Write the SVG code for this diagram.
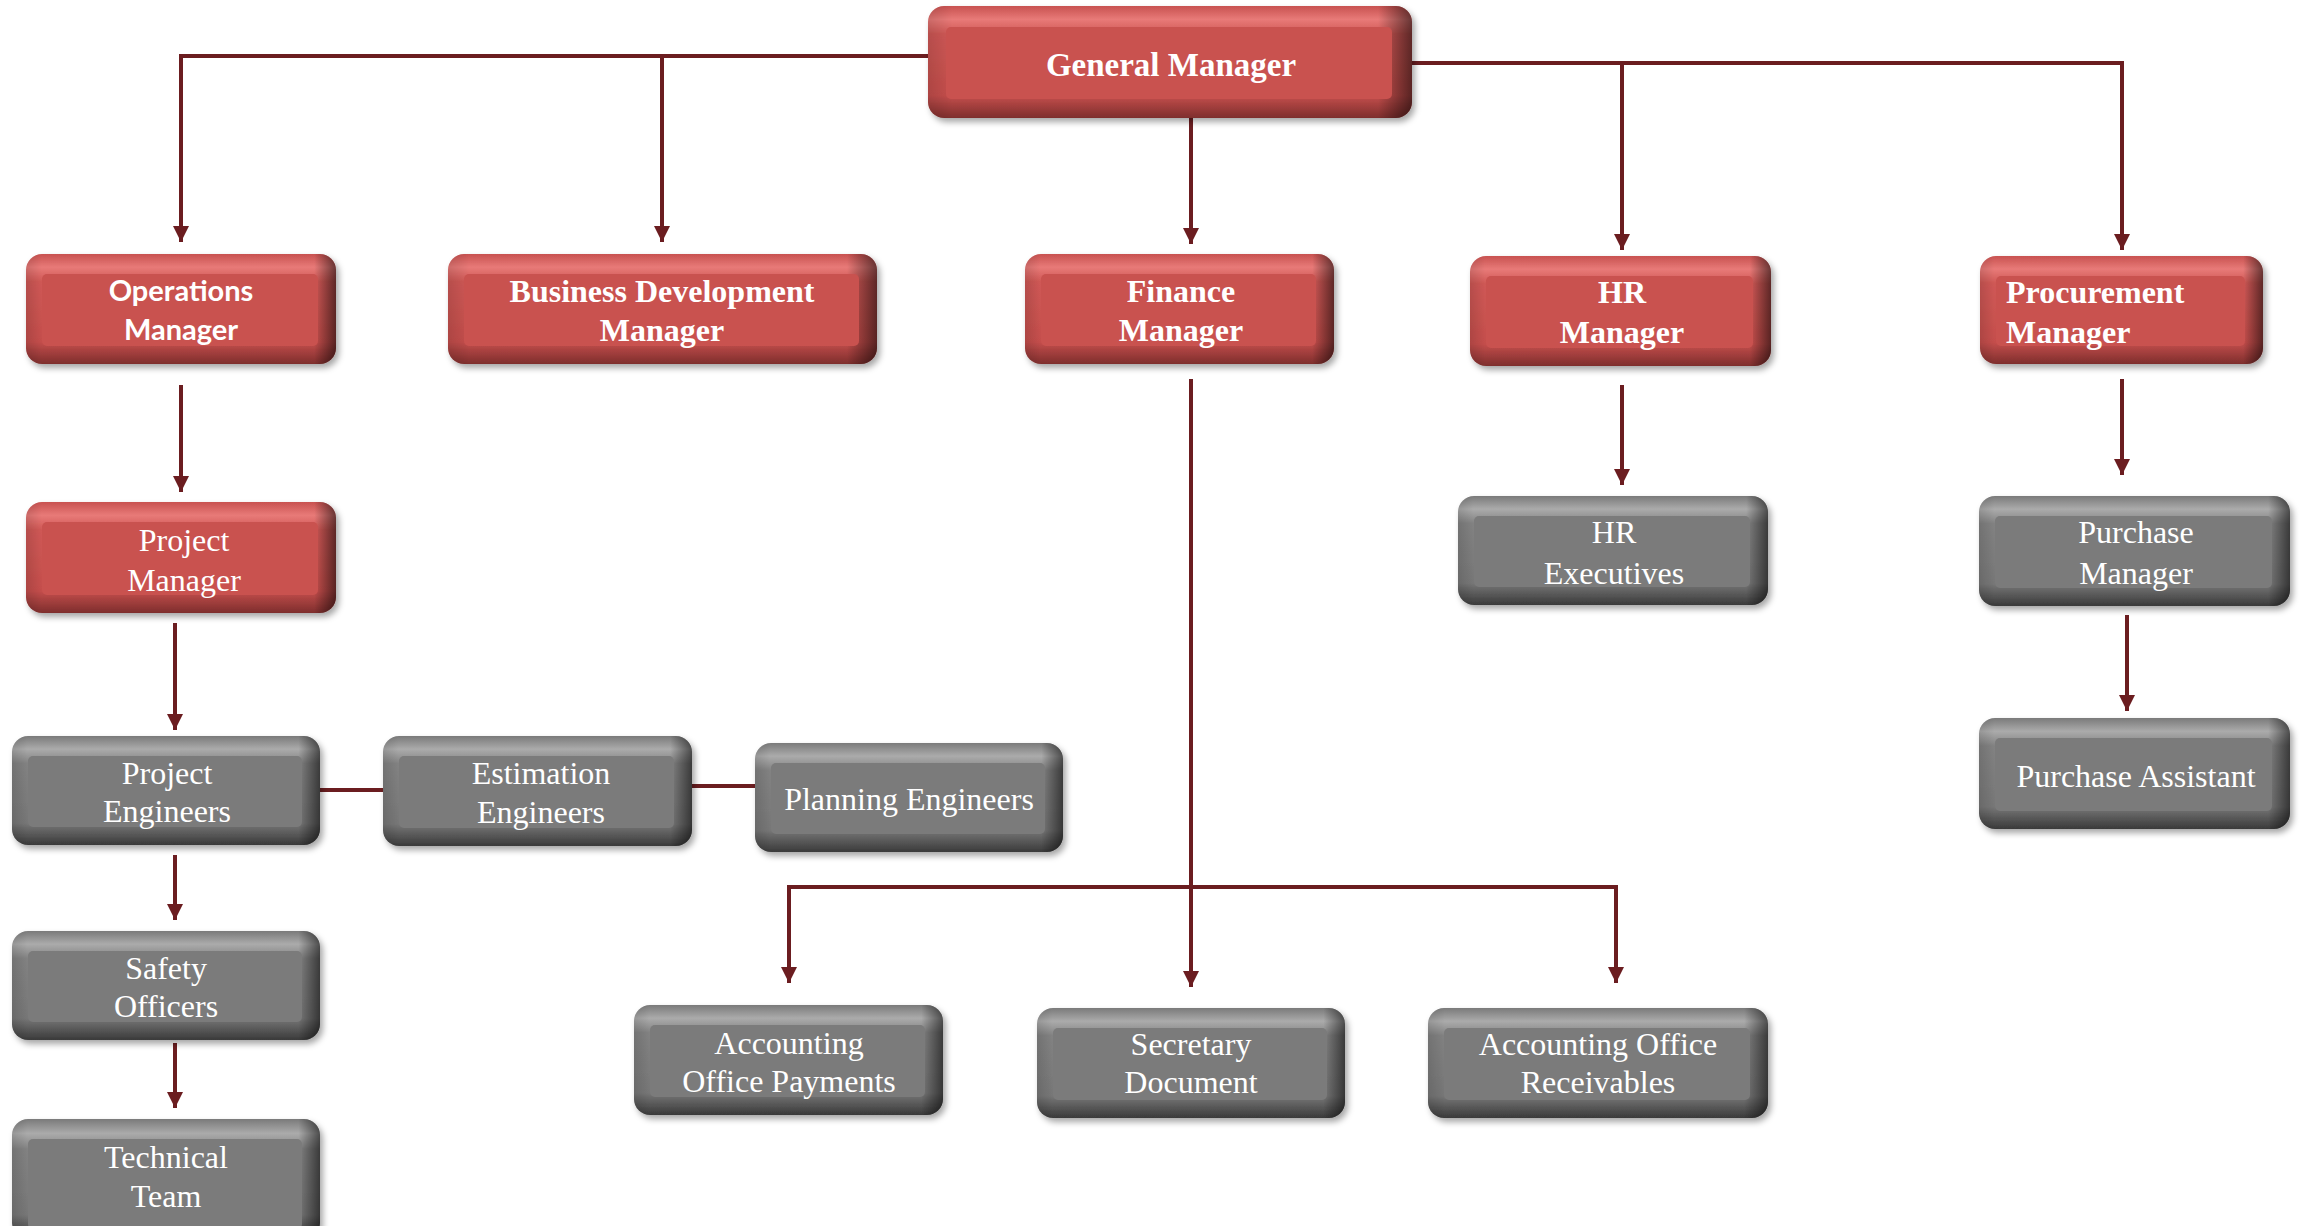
<svg xmlns="http://www.w3.org/2000/svg" width="2303" height="1226" viewBox="0 0 2303 1226">
<defs>
<linearGradient id="redV" x1="0" y1="0" x2="0" y2="1">
<stop offset="0" stop-color="#c85250"/><stop offset="0.12" stop-color="#e87a78"/><stop offset="0.25" stop-color="#cf5855"/><stop offset="0.8" stop-color="#c44e4c"/><stop offset="1" stop-color="#7e2e2d"/>
</linearGradient>
<linearGradient id="grayV" x1="0" y1="0" x2="0" y2="1">
<stop offset="0" stop-color="#7a7a7a"/><stop offset="0.12" stop-color="#ababab"/><stop offset="0.25" stop-color="#828282"/><stop offset="0.8" stop-color="#777777"/><stop offset="1" stop-color="#3a3a3a"/>
</linearGradient>
<linearGradient id="edgeH" x1="0" y1="0" x2="1" y2="0">
<stop offset="0" stop-color="#000" stop-opacity="0.12"/><stop offset="0.05" stop-color="#000" stop-opacity="0"/><stop offset="0.93" stop-color="#000" stop-opacity="0"/><stop offset="1" stop-color="#000" stop-opacity="0.55"/>
</linearGradient>
<filter id="sh" x="-10%" y="-10%" width="125%" height="130%">
<feDropShadow dx="3" dy="4" stdDeviation="3" flood-color="#000" flood-opacity="0.35"/>
</filter>
<marker id="arr" viewBox="0 0 10 10" refX="10" refY="5" markerWidth="16" markerHeight="16" markerUnits="userSpaceOnUse" orient="auto">
<path d="M0,0 L10,5 L0,10 z" fill="#6b1d20"/>
</marker>
</defs>
<style>
.ro{fill:url(#redV);filter:url(#sh)}
.go{fill:url(#grayV);filter:url(#sh)}
.eh{fill:url(#edgeH)}
.rf{fill:#c9524f}
.gf{fill:#7b7b7b}
.rt{font-family:"Liberation Serif","Times New Roman",serif;font-weight:bold;font-size:32px;fill:#fff;text-anchor:middle}
.rt.left{text-anchor:start}
.ot{font-family:Lato,"Liberation Sans",sans-serif;font-weight:bold;font-size:29px;fill:#fff;text-anchor:middle}
.gt{font-family:"Liberation Serif","Times New Roman",serif;font-size:32px;fill:#fff;text-anchor:middle}
.ln{fill:none;stroke:#6b1d20;stroke-width:4}
.ar{marker-end:url(#arr)}
</style>
<rect width="2303" height="1226" fill="#fff"/>
<g id="connectors">
<path class="ln ar" d="M930,56 H181 V242"/>
<path class="ln ar" d="M662,56 V242"/>
<path class="ln ar" d="M1410,63 H2122 V250"/>
<path class="ln ar" d="M1622,63 V250"/>
<path class="ln ar" d="M1191,118 V244"/>
<path class="ln ar" d="M181,385 V492"/>
<path class="ln ar" d="M175,623 V730"/>
<path class="ln ar" d="M175,855 V920"/>
<path class="ln ar" d="M175,1043 V1108"/>
<path class="ln" d="M320,790 H383"/>
<path class="ln" d="M692,786 H755"/>
<path class="ln ar" d="M1191,379 V987"/>
<path class="ln ar" d="M1191,887 H789 V983"/>
<path class="ln ar" d="M1191,887 H1616 V983"/>
<path class="ln ar" d="M1622,385 V485"/>
<path class="ln ar" d="M2122,379 V475"/>
<path class="ln ar" d="M2127,615 V711"/>
</g>
<g id="general-manager">
<rect class="ro" x="928" y="6" width="484" height="112" rx="16"/>
<rect class="eh" x="928" y="6" width="484" height="112" rx="16"/>
<rect class="rf" x="946" y="27" width="446" height="72" rx="5"/>
<text class="rt" x="1171" y="76" style="font-size:33px">General Manager</text>
</g>
<g id="operations-manager">
<rect class="ro" x="26" y="254" width="310" height="110" rx="16"/>
<rect class="eh" x="26" y="254" width="310" height="110" rx="16"/>
<rect class="rf" x="42" y="274" width="276" height="72" rx="5"/>
<text class="ot" x="181" y="301">Operations</text>
<text class="ot" x="181" y="340">Manager</text>
</g>
<g id="business-development-manager">
<rect class="ro" x="448" y="254" width="429" height="110" rx="16"/>
<rect class="eh" x="448" y="254" width="429" height="110" rx="16"/>
<rect class="rf" x="464" y="274" width="395" height="72" rx="5"/>
<text class="rt" x="662" y="302">Business Development</text>
<text class="rt" x="662" y="341">Manager</text>
</g>
<g id="finance-manager">
<rect class="ro" x="1025" y="254" width="309" height="110" rx="16"/>
<rect class="eh" x="1025" y="254" width="309" height="110" rx="16"/>
<rect class="rf" x="1041" y="274" width="275" height="72" rx="5"/>
<text class="rt" x="1181" y="302">Finance</text>
<text class="rt" x="1181" y="341">Manager</text>
</g>
<g id="hr-manager">
<rect class="ro" x="1470" y="256" width="301" height="110" rx="16"/>
<rect class="eh" x="1470" y="256" width="301" height="110" rx="16"/>
<rect class="rf" x="1486" y="276" width="267" height="72" rx="5"/>
<text class="rt" x="1622" y="303">HR</text>
<text class="rt" x="1622" y="343">Manager</text>
</g>
<g id="procurement-manager">
<rect class="ro" x="1980" y="256" width="283" height="108" rx="16"/>
<rect class="eh" x="1980" y="256" width="283" height="108" rx="16"/>
<rect class="rf" x="1996" y="276" width="249" height="70" rx="5"/>
<text class="rt left" x="2006" y="303">Procurement</text>
<text class="rt left" x="2006" y="343">Manager</text>
</g>
<g id="project-manager">
<rect class="ro" x="26" y="502" width="310" height="111" rx="16"/>
<rect class="eh" x="26" y="502" width="310" height="111" rx="16"/>
<rect class="rf" x="42" y="522" width="276" height="73" rx="5"/>
<text class="gt" x="184" y="551">Project</text>
<text class="gt" x="184" y="591">Manager</text>
</g>
<g id="hr-executives">
<rect class="go" x="1458" y="496" width="310" height="109" rx="16"/>
<rect class="eh" x="1458" y="496" width="310" height="109" rx="16"/>
<rect class="gf" x="1474" y="516" width="276" height="71" rx="5"/>
<text class="gt" x="1614" y="543">HR</text>
<text class="gt" x="1614" y="584">Executives</text>
</g>
<g id="purchase-manager">
<rect class="go" x="1979" y="496" width="311" height="110" rx="16"/>
<rect class="eh" x="1979" y="496" width="311" height="110" rx="16"/>
<rect class="gf" x="1995" y="516" width="277" height="72" rx="5"/>
<text class="gt" x="2136" y="543">Purchase</text>
<text class="gt" x="2136" y="584">Manager</text>
</g>
<g id="purchase-assistant">
<rect class="go" x="1979" y="718" width="311" height="111" rx="16"/>
<rect class="eh" x="1979" y="718" width="311" height="111" rx="16"/>
<rect class="gf" x="1995" y="738" width="277" height="73" rx="5"/>
<text class="gt" x="2136" y="787">Purchase Assistant</text>
</g>
<g id="project-engineers">
<rect class="go" x="12" y="736" width="308" height="109" rx="16"/>
<rect class="eh" x="12" y="736" width="308" height="109" rx="16"/>
<rect class="gf" x="28" y="756" width="274" height="71" rx="5"/>
<text class="gt" x="167" y="784">Project</text>
<text class="gt" x="167" y="822">Engineers</text>
</g>
<g id="estimation-engineers">
<rect class="go" x="383" y="736" width="309" height="110" rx="16"/>
<rect class="eh" x="383" y="736" width="309" height="110" rx="16"/>
<rect class="gf" x="399" y="756" width="275" height="72" rx="5"/>
<text class="gt" x="541" y="784">Estimation</text>
<text class="gt" x="541" y="823">Engineers</text>
</g>
<g id="planning-engineers">
<rect class="go" x="755" y="743" width="308" height="109" rx="16"/>
<rect class="eh" x="755" y="743" width="308" height="109" rx="16"/>
<rect class="gf" x="771" y="763" width="274" height="71" rx="5"/>
<text class="gt" x="909" y="810">Planning Engineers</text>
</g>
<g id="safety-officers">
<rect class="go" x="12" y="931" width="308" height="109" rx="16"/>
<rect class="eh" x="12" y="931" width="308" height="109" rx="16"/>
<rect class="gf" x="28" y="951" width="274" height="71" rx="5"/>
<text class="gt" x="166" y="979">Safety</text>
<text class="gt" x="166" y="1017">Officers</text>
</g>
<g id="technical-team">
<rect class="go" x="12" y="1119" width="308" height="120" rx="16"/>
<rect class="eh" x="12" y="1119" width="308" height="120" rx="16"/>
<rect class="gf" x="28" y="1139" width="274" height="90" rx="5"/>
<text class="gt" x="166" y="1168">Technical</text>
<text class="gt" x="166" y="1207">Team</text>
</g>
<g id="accounting-office-payments">
<rect class="go" x="634" y="1005" width="309" height="110" rx="16"/>
<rect class="eh" x="634" y="1005" width="309" height="110" rx="16"/>
<rect class="gf" x="650" y="1025" width="275" height="72" rx="5"/>
<text class="gt" x="789" y="1054">Accounting</text>
<text class="gt" x="789" y="1092">Office Payments</text>
</g>
<g id="secretary-document">
<rect class="go" x="1037" y="1008" width="308" height="110" rx="16"/>
<rect class="eh" x="1037" y="1008" width="308" height="110" rx="16"/>
<rect class="gf" x="1053" y="1028" width="274" height="72" rx="5"/>
<text class="gt" x="1191" y="1055">Secretary</text>
<text class="gt" x="1191" y="1093">Document</text>
</g>
<g id="accounting-office-receivables">
<rect class="go" x="1428" y="1008" width="340" height="110" rx="16"/>
<rect class="eh" x="1428" y="1008" width="340" height="110" rx="16"/>
<rect class="gf" x="1444" y="1028" width="306" height="72" rx="5"/>
<text class="gt" x="1598" y="1055">Accounting Office</text>
<text class="gt" x="1598" y="1093">Receivables</text>
</g>
</svg>
